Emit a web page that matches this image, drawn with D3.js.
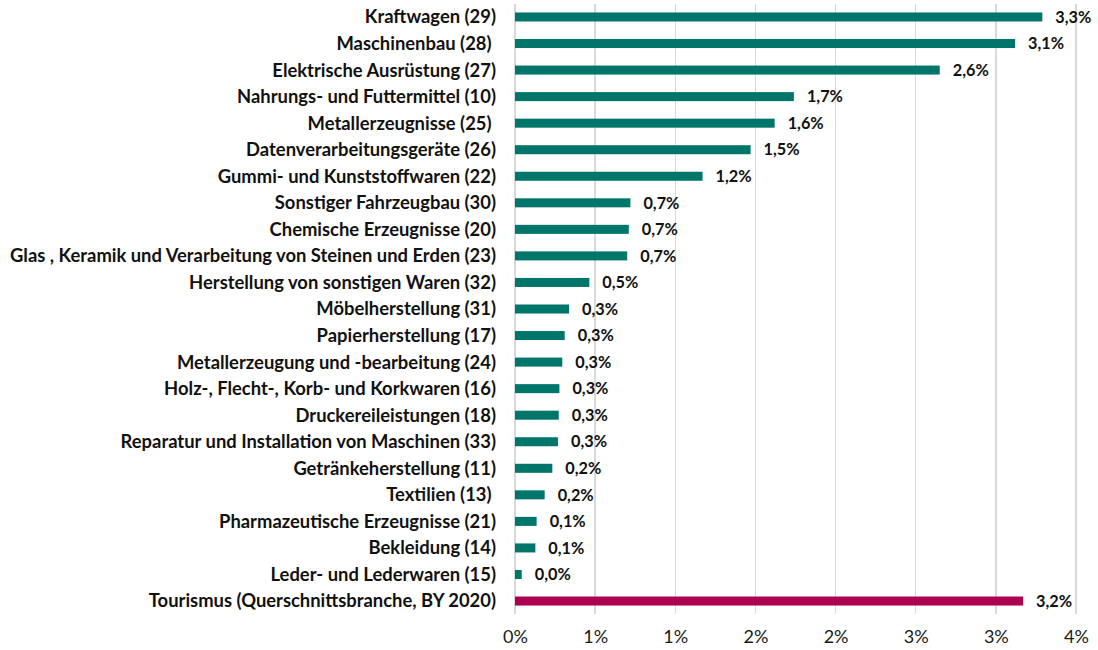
<!DOCTYPE html>
<html>
<head>
<meta charset="utf-8">
<script src="https://cdn.jsdelivr.net/npm/d3@7"></script>
<style>
  html, body { margin: 0; padding: 0; background: #fff; }
  svg { display: block; }
  text { font-family: Lato, "Open Sans", sans-serif; white-space: pre; }
</style>
</head>
<body>
<svg id="chart" width="1098" height="650"></svg>
<script>
// Industry categories (WZ division numbers in brackets), top to bottom
const categories = [
  "Kraftwagen (29)",
  "Maschinenbau (28) ",
  "Elektrische Ausrüstung (27)",
  "Nahrungs- und Futtermittel (10)",
  "Metallerzeugnisse (25) ",
  "Datenverarbeitungsgeräte (26)",
  "Gummi- und Kunststoffwaren (22)",
  "Sonstiger Fahrzeugbau (30)",
  "Chemische Erzeugnisse (20)",
  "Glas , Keramik und Verarbeitung von Steinen und Erden (23)",
  "Herstellung von sonstigen Waren (32)",
  "Möbelherstellung (31)",
  "Papierherstellung (17)",
  "Metallerzeugung und -bearbeitung (24)",
  "Holz-, Flecht-, Korb- und Korkwaren (16)",
  "Druckereileistungen (18)",
  "Reparatur und Installation von Maschinen (33)",
  "Getränkeherstellung (11)",
  "Textilien (13) ",
  "Pharmazeutische Erzeugnisse (21)",
  "Bekleidung (14)",
  "Leder- und Lederwaren (15)",
  "Tourismus (Querschnittsbranche, BY 2020)"
];

// Share in percent
const shares = [
  3.29, 3.12, 2.65, 1.74, 1.62, 1.47, 1.17, 0.72, 0.71, 0.70, 0.464,
  0.337, 0.31, 0.295, 0.277, 0.273, 0.268, 0.233, 0.185, 0.135, 0.127,
  0.042, 3.17
];

// Which bars belong to the highlighted comparison group
const highlighted = [
  false, false, false, false, false, false, false, false, false, false, false,
  false, false, false, false, false, false, false, false, false, false,
  false, true
];

const tickValues = [0, 0.5, 1, 1.5, 2, 2.5, 3, 3.5];
const tickLabels = ["0%", "1%", "1%", "2%", "2%", "3%", "3%", "4%"];

const colorIndustry = "#00766a";
const colorTourism = "#ae0050";

const svg = d3.select("#chart");
const margin = { left: 515, right: 22, top: 3.7, bottom: 35.7 };
const width = 1098, height = 650;

const x = d3.scaleLinear()
  .domain([0, 3.5])
  .range([margin.left, width - margin.right]);

const y = d3.scaleBand()
  .domain(d3.range(categories.length))
  .range([margin.top, height - margin.bottom])
  .paddingInner(0.66)
  .paddingOuter(0.33);

const de = d3.formatLocale({ decimal: ",", thousands: ".", grouping: [3], currency: ["", " €"] });
const fmtValue = de.format(".1f");

// Vertical gridlines
svg.append("g")
  .selectAll("line")
  .data(tickValues)
  .join("line")
  .attr("x1", d => x(d)).attr("x2", d => x(d))
  .attr("y1", margin.top).attr("y2", height - margin.bottom)
  .attr("stroke", "#d9d9d9")
  .attr("stroke-width", 1.3)
  .attr("shape-rendering", "crispEdges");

// x-axis tick labels
const xAxis = d3.axisBottom(x)
  .tickValues(tickValues)
  .tickFormat((d, i) => tickLabels[i])
  .tickSize(0)
  .tickPadding(0);

const gx = svg.append("g")
  .attr("transform", `translate(0, ${height - margin.bottom + 16})`)
  .call(xAxis);
gx.select(".domain").remove();
gx.selectAll("text")
  .attr("font-family", "Lato, sans-serif")
  .attr("font-size", 18)
  .attr("fill", "#1a1a1a");

// Bars
svg.append("g")
  .selectAll("rect")
  .data(shares)
  .join("rect")
  .attr("x", x(0))
  .attr("y", (d, i) => y(i))
  .attr("width", d => x(d) - x(0))
  .attr("height", y.bandwidth())
  .attr("fill", (d, i) => highlighted[i] ? colorTourism : colorIndustry);

// Category labels
svg.append("g")
  .selectAll("text")
  .data(categories)
  .join("text")
  .attr("x", 496)
  .attr("y", (d, i) => y(i) + y.bandwidth() / 2)
  .attr("dy", "0.35em")
  .attr("text-anchor", "end")
  .attr("font-weight", 700)
  .attr("font-size", 18.4)
  .attr("fill", "#111")
  .text(d => d);

// Value labels
svg.append("g")
  .selectAll("text")
  .data(shares)
  .join("text")
  .attr("x", d => x(d) + 13)
  .attr("y", (d, i) => y(i) + y.bandwidth() / 2)
  .attr("dy", "0.35em")
  .attr("font-weight", 700)
  .attr("font-size", 16.3)
  .attr("fill", "#111")
  .text(d => fmtValue(d) + "%");
</script>
</body>
</html>
